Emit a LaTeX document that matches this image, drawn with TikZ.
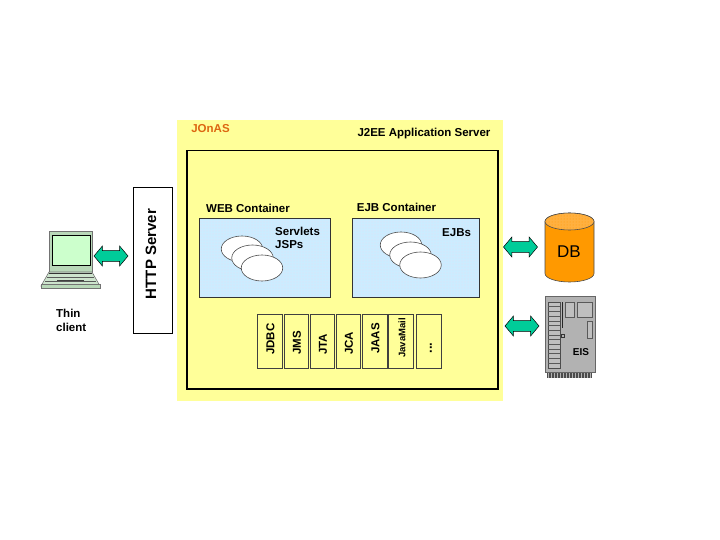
\documentclass[tikz,border=0pt]{standalone}
\usepackage{fontspec}
\setmainfont{Liberation Sans}
\usetikzlibrary{shapes.arrows,shapes.geometric,patterns}
\definecolor{panel}{HTML}{FFFF99}
\definecolor{pale}{HTML}{CCECFF}
\definecolor{dotc}{HTML}{EBDDF0}
\definecolor{teal}{HTML}{00CC99}
\definecolor{orangeA}{HTML}{FF9900}
\definecolor{orangeB}{HTML}{FFB040}
\definecolor{rust}{HTML}{DD6611}
\definecolor{lapg}{HTML}{CCFFCC}
\definecolor{lapd}{HTML}{B8D8B8}
\definecolor{srv}{HTML}{B2B2B2}
\tikzset{
 x=1pt,y=-1pt,
 lbl/.style={font=\bfseries\fontsize{11.5}{13}\selectfont,inner sep=0pt,text=black},
 box/.style={draw=black,line width=.8pt,anchor=north west,inner sep=0pt},
 cont/.style={draw=black!80,line width=.7pt,fill=pale,anchor=north west,inner sep=0pt},
 svc/.style={draw=black!75,line width=.6pt,fill=panel,inner sep=0pt,minimum width=24.5pt,minimum height=54pt},
 svct/.style={lbl,rotate=90,anchor=west},
 bean/.style={ellipse,draw=black!70,line width=.6pt,fill=white,minimum width=41.5pt,minimum height=26pt,inner sep=0pt},
 dbl/.style={double arrow,draw=black,line width=.5pt,fill=teal,inner sep=5pt,minimum height=34pt,minimum width=20pt,double arrow head extend=4.5pt,double arrow tip angle=100},
}
\begin{document}
\begin{tikzpicture}
\useasboundingbox (0,0) rectangle (720,540);
\fill[white] (0,0) rectangle (720,540);
% panel
\node[fill=panel,anchor=north west,inner sep=0pt,minimum width=326pt,minimum height=281pt] (server) at (177,120) {};
\node[box,line width=1.5pt,minimum width=311pt,minimum height=238pt] (inner) at (186,150) {};
\node[lbl,text=rust] (jonas) at (210.5,129) {JOnAS};
\node[lbl] (j2ee) at (424,134) {J2EE Application Server};
% http
\node[box,line width=1.2pt,fill=white,minimum width=39pt,minimum height=146pt] (http) at (133,187) {};
\node[lbl,rotate=90,font=\bfseries\fontsize{15}{17}\selectfont] (httpl) at (151,254) {HTTP Server};
% containers
\node[cont,minimum width=131pt,minimum height=79pt] (web) at (199,218) {};
\node[cont,minimum width=127pt,minimum height=79pt] (ejb) at (352,218) {};
\fill[pattern=dots,pattern color=dotc] (web.north west) rectangle (web.south east);
\fill[pattern=dots,pattern color=dotc] (ejb.north west) rectangle (ejb.south east);
\draw[draw=black!80,line width=.7pt] (web.north west) rectangle (web.south east);
\draw[draw=black!80,line width=.7pt] (ejb.north west) rectangle (ejb.south east);
\node[lbl] (webl) at (248,208.5) {WEB Container};
\node[lbl] (ejbl) at (396.5,207.5) {EJB Container};
\node[lbl,anchor=west] (servl) at (275,231) {Servlets};
\node[lbl,anchor=west] (jsps) at (275,245) {JSPs};
\node[lbl,anchor=west] (ejbs) at (442,233) {EJBs};
\node[bean] (w1) at (242,249) {};
\node[bean] (w2) at (252.5,258) {};
\node[bean] (w3) at (262,268) {};
\node[bean] (e1) at (401,245) {};
\node[bean] (e2) at (410.5,255) {};
\node[bean] (e3) at (420.5,265) {};
% services
\foreach \n/\x/\b/\t in {jdbc/270/355/JDBC,jms/296.5/355/JMS,jta/322.5/355/JTA,jca/348.5/355/JCA,jaas/375/354/JAAS}{
 \node[svc] (\n) at (\x,341) {};
 \node[svct] at (\x+.5,\b) {\t};
}
\node[svc] (jmail) at (401,341) {};
\node[svct,font=\bfseries\fontsize{9.5}{11}\selectfont] at (402,358) {JavaMail};
\node[svc] (etc) at (429,341) {};
\node[lbl,rotate=90,font=\bfseries\fontsize{13}{15}\selectfont] at (431,348) {...};
% arrows
\node[dbl] (a1) at (111,256) {};
\node[dbl] (a2) at (520.5,247) {};
\node[dbl] (a3) at (522,326) {};
% laptop
\draw[fill=lapd,draw=black!55,line width=.6pt] (49,231) rectangle (92,272);
\draw[fill=lapg,draw=black,line width=.6pt] (52,235) rectangle (90,265);
\draw[fill=lapd!70,draw=black!55,line width=.6pt] (49,272) -- (92,272) -- (100,286) -- (41,286) -- cycle;
\draw[line width=.9pt,black!80] (49,273) -- (92,273);
\draw[line width=.8pt,black!65] (47,277) -- (94,277);
\draw[line width=.8pt,black!65] (45,281) -- (96,281);
\draw[line width=1pt,black!75] (57,280) -- (84,280);
\draw[fill=lapd,draw=black!55,line width=.5pt] (41,284) rectangle (100,288);
\node[lbl,anchor=west] (thin) at (56,313) {Thin};
\node[lbl,anchor=west] (client) at (56,327) {client};
% DB
\draw[fill=orangeA,draw=black!70,line width=.6pt] (545,221.5) -- (545,273.5) arc[start angle=180,end angle=360,x radius=24.5pt,y radius=8.5pt] -- (594,221.5) arc[start angle=0,end angle=180,x radius=24.5pt,y radius=8.5pt] -- cycle;
\draw[fill=orangeB,draw=black!70,line width=.6pt] (569.5,221.5) ellipse[x radius=24.5pt,y radius=8.5pt];
\fill[pattern=dots,pattern color=orangeA] (569.5,221.5) ellipse[x radius=24pt,y radius=8pt];
\node[inner sep=0pt,font=\fontsize{17}{20}\selectfont] (db) at (569,252) {DB};
% EIS
\fill[black!70] (547,372) rectangle (592,378);
\foreach \i in {0,...,14}{\draw[white!70!black,line width=.6pt] (548.5+\i*3,372) -- (548.5+\i*3,378);}
\draw[fill=srv,draw=black!60,line width=.6pt] (545,296) rectangle (595,372);
\draw[fill=black!25,draw=black!70,line width=.5pt] (548,302) rectangle (560,368);
\foreach \i in {1,...,13}{\draw[black!65,line width=.5pt] (548,302+\i*4.7) -- (560,302+\i*4.7);}
\draw[line width=1.3pt,black!85] (562.7,302) -- (562.7,328);
\draw[fill=black!25,draw=black!65,line width=.6pt] (565.5,302) rectangle (574,317);
\draw[fill=black!25,draw=black!65,line width=.6pt] (577,302) rectangle (592,317);
\draw[fill=black!25,draw=black!65,line width=.6pt] (587.5,321) rectangle (592,338);
\draw[fill=black!30,draw=black!80,line width=.5pt] (561,334) rectangle (564,337.5);
\node[lbl,font=\bfseries\fontsize{10}{12}\selectfont] (eis) at (581,352.5) {EIS};
\end{tikzpicture}
\end{document}
